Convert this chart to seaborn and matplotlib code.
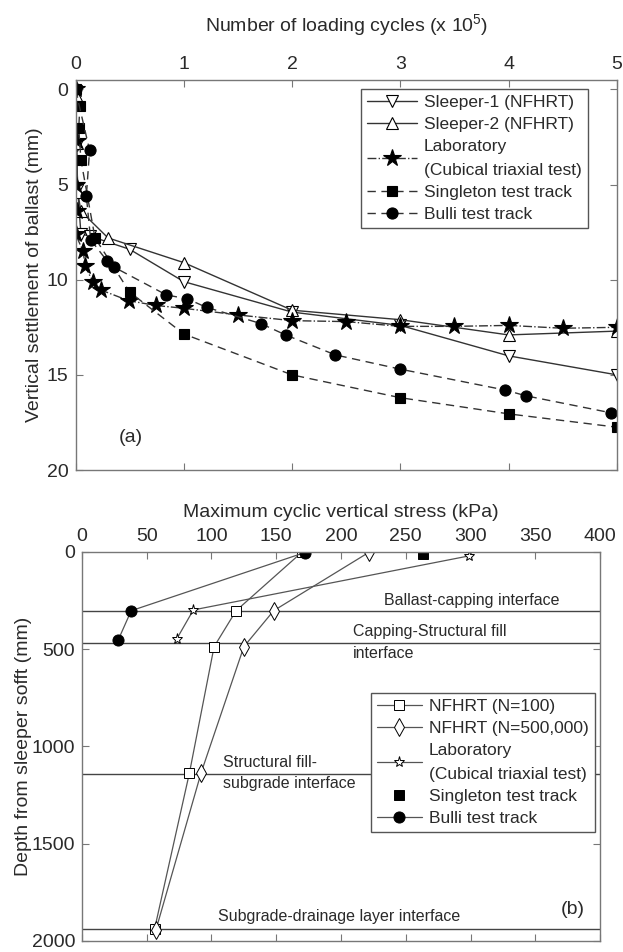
import numpy as np
import pandas as pd
import seaborn as sns
import matplotlib.pyplot as plt

# (a) settlement vs loading cycles (x 10^5)
s1_n = [0, 0.01, 0.02, 0.05, 0.13, 0.5, 1.0, 2.0, 3.0, 4.0, 5.0]
s1_s = [0.1, 2.9, 5.2, 7.6, 7.7, 8.4, 10.1, 11.7, 12.4, 14.0, 15.0]
s2_n = [0, 0.01, 0.02, 0.05, 0.3, 1.0, 2.0, 3.0, 4.0, 5.0]
s2_s = [0.3, 2.8, 5.4, 6.4, 7.8, 9.1, 11.6, 12.1, 12.9, 12.7]
lab_n = [0, 0.01, 0, 0.01, 0, 0.07, 0.09, 0.16, 0.24, 0.49, 0.74, 1.0, 1.5,
         2.0, 2.5, 3.0, 3.5, 4.0, 4.5, 5.0]
lab_s = [0, 2.7, 5.0, 6.4, 7.6, 8.5, 9.3, 10.1, 10.55, 11.1, 11.35, 11.5, 11.85,
         12.15, 12.2, 12.45, 12.45, 12.4, 12.55, 12.5]
sing_n = [0, 0.04, 0.03, 0.05, 0.18, 0.5, 1.0, 2.0, 3.0, 4.0, 5.0]
sing_s = [0, 0.85, 2.05, 3.7, 7.8, 10.65, 12.85, 15.0, 16.2, 17.05, 17.75]
bulli_n = [0, 0.13, 0.1, 0.14, 0.29, 0.36, 0.84, 1.03, 1.21, 1.71, 1.94, 2.4,
           3.0, 3.97, 4.16, 4.95]
bulli_s = [0, 3.2, 5.6, 7.9, 9.0, 9.35, 10.8, 11.0, 11.45, 12.3, 12.9, 13.95,
           14.7, 15.8, 16.1, 17.0]

# (b) stress (kPa) vs depth (mm)
nf100_p = [170, 119, 102, 83, 56]
nf100_d = [0, 302, 487, 1135, 1940]
nf500k_p = [222, 148, 125, 92, 57]
nf500k_d = [0, 302, 487, 1135, 1945]
labb_p = [299, 86, 73]
labb_d = [20, 298, 449]
singb_p = [263]
singb_d = [12]
bullib_p = [172, 38, 28]
bullib_d = [3, 302, 452]

interface_depth = [305, 470, 1143, 1937]

sns.set_theme(style='white')
plt.rcParams['font.family'] = ['Liberation Sans', 'DejaVu Sans']
plt.rcParams['mathtext.default'] = 'regular'

ink = '#2a2a2a'
frame = '#777777'
line = '#333333'

fig = plt.figure(figsize=(6.23, 9.52), dpi=100)
ax1 = fig.add_axes([0.1212, 0.5063, 0.869, 0.4097])
ax2 = fig.add_axes([0.1316, 0.0116, 0.8315, 0.4086])

dash = (0, (6, 4))
top_series = [
    ('Sleeper-1 (NFHRT)', s1_n, s1_s, 'v', '-', 'white', 9),
    ('Sleeper-2 (NFHRT)', s2_n, s2_s, '^', '-', 'white', 9),
    ('Laboratory\n(Cubical triaxial test)', lab_n, lab_s, '*', '-.', 'black', 13),
    ('Singleton test track', sing_n, sing_s, 's', dash, 'black', 7),
    ('Bulli test track', bulli_n, bulli_s, 'o', dash, 'black', 8),
]
for name, n, s, mk, ls, fc, ms in top_series:
    df = pd.DataFrame({'N': n, 'S': s})
    sns.lineplot(x='N', y='S', data=df, ax=ax1, sort=False, estimator=None,
                 color=line, lw=1.0, linestyle=ls, marker=mk, markersize=ms,
                 markerfacecolor=fc, markeredgecolor='black', markeredgewidth=0.8,
                 label=name)

ax1.set_xlim(0, 5)
ax1.set_ylim(20, -0.5)
ax1.set_xticks([0, 1, 2, 3, 4, 5])
ax1.set_yticks([0, 5, 10, 15, 20])
ax1.xaxis.set_label_position('top')
ax1.set_xlabel(r'Number of loading cycles (x 10$^{5}$)', fontsize=14, color=ink, labelpad=18)
ax1.set_ylabel('Vertical settlement of ballast (mm)', fontsize=14, color=ink, labelpad=3)
ax1.text(0.4, 18.3, '(a)', fontsize=14, color=ink, ha='left', va='center')
leg_kw = dict(fontsize=12.5, frameon=True, fancybox=False, edgecolor='#555555',
              framealpha=1, labelspacing=0.4, borderpad=0.35,
              handletextpad=0.4, borderaxespad=0, labelcolor=ink)
leg1 = ax1.legend(loc='upper right', bbox_to_anchor=(0.9464, 0.977),
                  handlelength=2.9, **leg_kw)

bot_series = [
    ('NFHRT (N=100)', nf100_p, nf100_d, 's', '-', 'white', 7),
    ('NFHRT (N=500,000)', nf500k_p, nf500k_d, 'd', '-', 'white', 9),
    ('Laboratory\n(Cubical triaxial test)', labb_p, labb_d, '*', '-', 'white', 8),
    ('Singleton test track', singb_p, singb_d, 's', '', 'black', 7),
    ('Bulli test track', bullib_p, bullib_d, 'o', '-', 'black', 8),
]
for name, p, d, mk, ls, fc, ms in bot_series:
    df = pd.DataFrame({'P': p, 'D': d})
    sns.lineplot(x='P', y='D', data=df, ax=ax2, sort=False, estimator=None,
                 color='#555555', lw=0.9, linestyle=ls, marker=mk, markersize=ms,
                 markerfacecolor=fc, markeredgecolor='black', markeredgewidth=0.7,
                 label=name)

for d in interface_depth:
    ax2.axhline(d, color='#444444', lw=1.0, zorder=1)

ax2.text(233, 290, 'Ballast-capping interface', fontsize=11.5, color=ink, va='bottom')
ax2.text(209, 466, 'Capping-Structural fill\ninterface', fontsize=11.5, color=ink,
         va='center', linespacing=1.55)
ax2.text(109, 1136, 'Structural fill-\nsubgrade interface', fontsize=11.5, color=ink,
         va='center', linespacing=1.55)
ax2.text(105, 1915, 'Subgrade-drainage layer interface', fontsize=11.5, color=ink,
         va='bottom')
ax2.text(370, 1837, '(b)', fontsize=14, color=ink, ha='left', va='center')

ax2.set_xlim(0, 400)
ax2.set_ylim(2000, 0)
ax2.set_xticks(np.arange(0, 401, 50))
ax2.set_yticks([0, 500, 1000, 1500, 2000])
ax2.xaxis.set_label_position('top')
ax2.set_xlabel('Maximum cyclic vertical stress (kPa)', fontsize=14, color=ink, labelpad=8)
ax2.set_ylabel('Depth from sleeper sofft (mm)', fontsize=14, color=ink, labelpad=0)
leg2 = ax2.legend(loc='upper right', bbox_to_anchor=(0.99, 0.6375),
                  handlelength=2.6, **leg_kw)

for leg in (leg1, leg2):
    for t in leg.get_texts():
        t.set_linespacing(1.7)

for ax in (ax1, ax2):
    ax.tick_params(axis='both', direction='in', length=5, width=0.8, color=frame,
                   labelsize=14, labelcolor=ink, top=True, bottom=True, left=True,
                   right=True, labeltop=True, labelbottom=False, pad=5)
    for sp in ax.spines.values():
        sp.set_color(frame)
        sp.set_linewidth(1.0)
    ax.grid(False)

fig.savefig('out.png', dpi=100)
